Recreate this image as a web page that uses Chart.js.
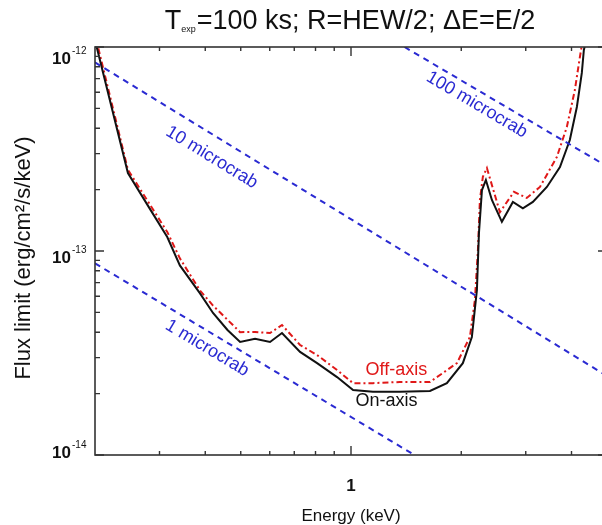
<!DOCTYPE html>
<html>
<head>
<meta charset="utf-8">
<script src="https://cdn.jsdelivr.net/npm/chart.js@4.4.1/dist/chart.umd.min.js"></script>
<style>
html,body{margin:0;padding:0;background:#fff;overflow:hidden;width:602px;height:525px;}
canvas{display:block;}
</style>
</head>
<body>
<canvas id="c" width="620" height="525"></canvas>
<script>
// ---- data ----
const onAxisEnergy = [0.200,0.246,0.283,0.315,0.341,0.387,0.420,0.460,0.498,0.547,0.601,0.648,0.726,0.808,0.916,1.013,1.148,1.36,1.643,1.827,2.02,2.138,2.207,2.235,2.278,2.335,2.425,2.582,2.767,2.946,3.138,3.426,3.72,3.958,4.137,4.268,4.323,4.40];
const onAxisFlux = [1.08e-12,2.41e-13,1.60e-13,1.17e-13,8.5e-14,6.2e-14,4.97e-14,4.1e-14,3.58e-14,3.71e-14,3.58e-14,3.96e-14,3.20e-14,2.82e-14,2.41e-14,2.08e-14,2.04e-14,2.04e-14,2.06e-14,2.25e-14,2.82e-14,3.79e-14,6.44e-14,1.22e-13,1.99e-13,2.23e-13,1.78e-13,1.39e-13,1.74e-13,1.62e-13,1.74e-13,2.06e-13,2.58e-13,3.50e-13,5.08e-13,7.46e-13,9.67e-13,1.1e-12];

const offAxisEnergy = [0.200,0.246,0.283,0.315,0.341,0.387,0.420,0.460,0.498,0.547,0.601,0.648,0.726,0.808,0.916,1.013,1.148,1.36,1.643,1.946,2.112,2.179,2.221,2.249,2.291,2.35,2.55,2.785,3.02,3.28,3.648,3.884,4.085,4.216,4.28];
const offAxisFlux = [1.15e-12,2.5e-13,1.68e-13,1.24e-13,9.2e-14,6.4e-14,5.4e-14,4.6e-14,4.0e-14,4.01e-14,3.96e-14,4.34e-14,3.46e-14,3.09e-14,2.61e-14,2.25e-14,2.25e-14,2.28e-14,2.28e-14,2.82e-14,3.79e-14,5.75e-14,1.01e-13,1.78e-13,2.31e-13,2.55e-13,1.55e-13,1.95e-13,1.82e-13,2.06e-13,2.89e-13,4.05e-13,6.15e-13,8.93e-13,1.05e-12];

// reference lines (end points)
const crab1Energy = [0.2, 1.49];
const crab1Flux = [8.7e-14, 1.0e-14];
const crab10Energy = [0.2, 5.0];
const crab10Flux = [8.4e-13, 2.44e-14];
const crab100Energy = [1.40, 5.0];
const crab100Flux = [1.0e-12, 2.6e-13];

const xMin = 0.2, xMax = 5;
const yMin = 1e-14, yMax = 1e-12;
const xMajorTicks = [1];
const xMinorTicks = [0.3,0.4,0.5,0.6,0.7,0.8,0.9,2,3,4];
const yMajorTicks = [1e-14,1e-13,1e-12];
const yMajorExp = ['-14','-13','-12'];
const yMinorTicks = [2e-14,3e-14,4e-14,5e-14,6e-14,7e-14,8e-14,9e-14,2e-13,3e-13,4e-13,5e-13,6e-13,7e-13,8e-13,9e-13];

const crabLabels = [
  {text:'1 microcrab', e:0.425, set:0, off:15},
  {text:'10 microcrab', e:0.445, set:1, off:20},
  {text:'100 microcrab', e:2.3, set:2, off:13}
];

function pts(xs, ys){ return xs.map((x,i)=>({x:x, y:ys[i]})); }
const crabSets = [[crab1Energy,crab1Flux],[crab10Energy,crab10Flux],[crab100Energy,crab100Flux]];

const FONT = '"Liberation Sans", Arial, sans-serif';
const BLUE = '#2a2ad2';

const decor = {
  id:'decor',
  afterDraw(chart){
    const ctx = chart.ctx, a = chart.chartArea;
    const xs = chart.scales.x, ys = chart.scales.y;
    ctx.save();
    // frame
    ctx.strokeStyle = '#333'; ctx.lineWidth = 1.6;
    ctx.strokeRect(a.left, a.top, a.right-a.left, a.bottom-a.top);
    // ticks
    ctx.lineWidth = 1.4;
    function vt(v, len){
      const px = xs.getPixelForValue(v);
      ctx.beginPath();
      ctx.moveTo(px, a.bottom); ctx.lineTo(px, a.bottom-len);
      ctx.moveTo(px, a.top); ctx.lineTo(px, a.top+len);
      ctx.stroke();
    }
    function ht(v, len){
      const py = ys.getPixelForValue(v);
      ctx.beginPath();
      ctx.moveTo(a.left, py); ctx.lineTo(a.left+len, py);
      ctx.moveTo(a.right, py); ctx.lineTo(a.right-len, py);
      ctx.stroke();
    }
    xMajorTicks.forEach(v=>vt(v,9));
    xMinorTicks.forEach(v=>vt(v,4));
    yMajorTicks.forEach(v=>ht(v,9));
    yMinorTicks.forEach(v=>ht(v,5));

    // y tick labels
    ctx.fillStyle = '#111';
    const labOff = [-3, 6, 11];
    yMajorTicks.forEach((v,i)=>{
      const py = ys.getPixelForValue(v) + labOff[i];
      ctx.font = 'bold 17px ' + FONT;
      ctx.textAlign = 'right'; ctx.textBaseline = 'alphabetic';
      const base = 71;
      ctx.fillText('10', base, py+6);
      ctx.font = '10px ' + FONT;
      ctx.textAlign = 'left';
      ctx.fillText(yMajorExp[i], base+1, py-4);
    });
    // x tick label
    ctx.font = 'bold 17px ' + FONT;
    ctx.textAlign = 'center'; ctx.textBaseline = 'alphabetic';
    xMajorTicks.forEach(v=>{
      ctx.fillText('1', xs.getPixelForValue(v), 491);
    });
    // axis titles
    ctx.font = '17px ' + FONT;
    ctx.fillText('Energy (keV)', xs.getPixelForValue(1), 521);
    ctx.save();
    ctx.translate(30, 258);
    ctx.rotate(-Math.PI/2);
    ctx.textAlign = 'center';
    ctx.font = '22px ' + FONT;
    ctx.fillText('Flux limit (erg/cm\u00B2/s/keV)', 0, 0);
    ctx.restore();

    // title with subscript
    const t1 = 'T', tsub = 'exp', t2 = '=100 ks; R=HEW/2; \u0394E=E/2';
    ctx.font = '27px ' + FONT; const w1 = ctx.measureText(t1).width, w2 = ctx.measureText(t2).width;
    ctx.font = '9px ' + FONT; const ws = ctx.measureText(tsub).width;
    const total = w1 + ws + 1 + w2;
    let tx = 350 - total/2; const ty = 29;
    ctx.textAlign = 'left';
    ctx.font = '27px ' + FONT; ctx.fillText(t1, tx, ty); tx += w1;
    ctx.font = '9px ' + FONT; ctx.fillText(tsub, tx, ty+3); tx += ws + 1;
    ctx.font = '27px ' + FONT; ctx.fillText(t2, tx, ty);

    // series labels
    ctx.font = '18px ' + FONT; ctx.textAlign = 'center';
    ctx.fillStyle = '#e01818';
    ctx.fillText('Off-axis', xs.getPixelForValue(1.33), ys.getPixelForValue(2.25e-14)-8);
    ctx.fillStyle = '#111';
    ctx.fillText('On-axis', xs.getPixelForValue(1.25), ys.getPixelForValue(2.04e-14)+14);

    // microcrab labels along the lines
    ctx.fillStyle = BLUE; ctx.font = '18px ' + FONT;
    crabLabels.forEach(l=>{
      const [ex, fy] = crabSets[l.set];
      const x0 = xs.getPixelForValue(ex[0]), y0 = ys.getPixelForValue(fy[0]);
      const x1 = xs.getPixelForValue(ex[1]), y1 = ys.getPixelForValue(fy[1]);
      const ang = Math.atan2(y1-y0, x1-x0);
      const px = xs.getPixelForValue(l.e);
      const py = y0 + (px-x0)*(y1-y0)/(x1-x0);
      ctx.save();
      ctx.translate(px - Math.sin(ang)*l.off, py + Math.cos(ang)*l.off);
      ctx.rotate(ang);
      ctx.textAlign = 'center'; ctx.textBaseline = 'middle';
      ctx.fillText(l.text, 0, 0);
      ctx.restore();
    });
    ctx.restore();
  }
};

const lineDs = (data, color, dash, width) => ({
  data, borderColor: color, borderWidth: width, borderDash: dash,
  pointRadius: 0, showLine: true, fill: false, tension: 0
});

new Chart(document.getElementById('c'), {
  type: 'scatter',
  data: {
    datasets: [
      lineDs(pts(crab1Energy, crab1Flux), BLUE, [6,5], 2),
      lineDs(pts(crab10Energy, crab10Flux), BLUE, [6,5], 2),
      lineDs(pts(crab100Energy, crab100Flux), BLUE, [6,5], 2),
      lineDs(pts(onAxisEnergy, onAxisFlux), '#111', [], 2),
      lineDs(pts(offAxisEnergy, offAxisFlux), '#e01818', [6,3,2,3], 2)
    ]
  },
  options: {
    responsive: false, animation: false,
    layout: { padding: { left: 95, right: 13, top: 47, bottom: 70 } },
    plugins: { legend: {display:false}, tooltip: {enabled:false}, title:{display:false} },
    scales: {
      x: { type:'logarithmic', min:xMin, max:xMax, display:false },
      y: { type:'logarithmic', min:yMin, max:yMax, display:false }
    }
  },
  plugins: [decor]
});
</script>
</body>
</html>
